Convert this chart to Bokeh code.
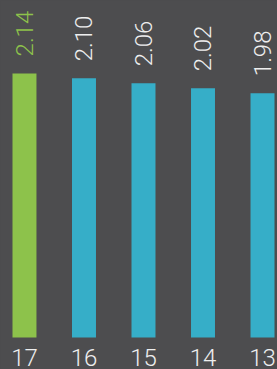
import math
from bokeh.plotting import figure
from bokeh.models import ColumnDataSource, Range1d, GlobalInlineStyleSheet
from bokeh.core.properties import value
from bokeh.embed import file_html
from bokeh.resources import INLINE

categories = ["17", "16", "15", "14", "13"]
values = [2.14, 2.10, 2.06, 2.02, 1.98]
labels = ["2.14", "2.10", "2.06", "2.02", "1.98"]
bar_colors = ["#8dc24b", "#36aec8", "#36aec8", "#36aec8", "#36aec8"]
label_colors = ["#8dc24b", "#eeeeee", "#eeeeee", "#eeeeee", "#eeeeee"]

BG = "#4d4d4f"
FONT = "Roboto Light"
xs = list(range(len(categories)))
zeros = [0] * len(categories)
src = ColumnDataSource(dict(x=xs, top=values, color=bar_colors, label=labels,
                            lcolor=label_colors, cat=categories, base=zeros))

p = figure(width=277, height=369, output_backend="svg", toolbar_location=None,
           x_range=Range1d(-0.403, 4.252), y_range=Range1d(-0.259, 2.731),
           x_axis_location=None, y_axis_location=None,
           background_fill_color=BG, border_fill_color=BG, outline_line_color=None,
           min_border=0)
p.stylesheets = [GlobalInlineStyleSheet(css="html, body {margin:0; padding:0; background:%s;}" % BG)]

p.vbar(x="x", top="top", bottom=0, width=0.403, fill_color="color", line_color=None, source=src)
p.text(x="x", y="top", text="label", angle=math.pi / 2, text_align="left", text_baseline="middle",
       y_offset=-17, text_color="lcolor", text_font_size="24px", text_font=value(FONT),
       source=src)
# category labels under the bars
p.text(x="x", y="base", text="cat", text_align="center", text_baseline="middle",
       y_offset=20, text_color="#eeeeee", text_font_size="24px", text_font=value(FONT),
       source=src)

p.xgrid.grid_line_color = None
p.ygrid.grid_line_color = None

open("out.html", "w").write(file_html(p, INLINE))
